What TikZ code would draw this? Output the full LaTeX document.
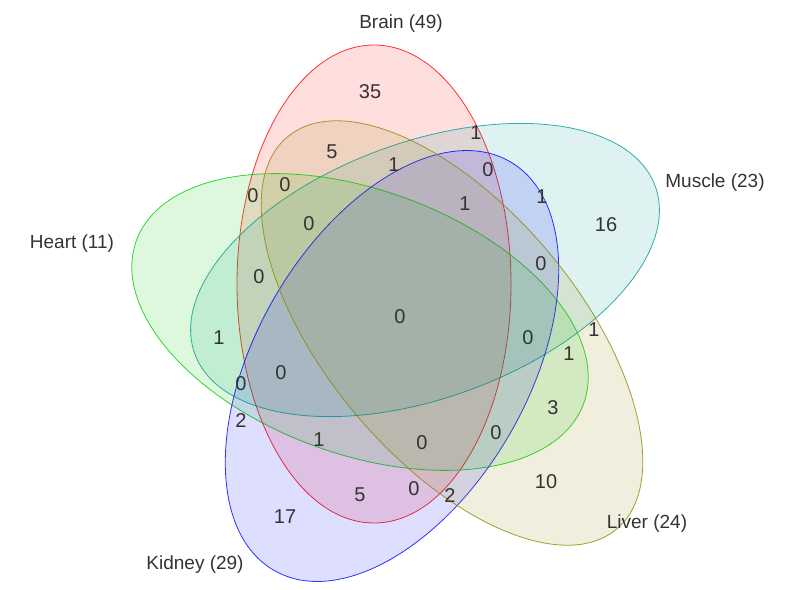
\documentclass[tikz,border=0pt]{standalone}
\usepackage{fontspec}
\setmainfont{Liberation Sans}
\begin{document}
\begin{tikzpicture}[x=1pt,y=-1pt,
  setshape/.style={draw=#1, fill=#1, fill opacity=0.13, draw opacity=0.8, line width=0.8pt},
  lab/.style={font=\fontsize{19}{22}\selectfont, text=black!80},
  num/.style={font=\fontsize{20}{23}\selectfont, text=black!80}]
\useasboundingbox (0,0) rectangle (794,589);
\path[setshape=red] (374,284) coordinate (cb) ellipse [x radius=137, y radius=239];
\path[setshape=teal!80!cyan, rotate around={20:(425,270)}] (425,270) coordinate (cm) ellipse [x radius=245, y radius=128];
\path[setshape=green!80!black, rotate around={-20:(360,322)}] (360,322) coordinate (ch) ellipse [x radius=238, y radius=132];
\path[setshape=blue, rotate around={60:(392,366)}] (392,366) coordinate (ck) ellipse [x radius=236, y radius=136];
\path[setshape=olive, rotate around={-50:(452,333)}] (452,333) coordinate (cl) ellipse [x radius=256, y radius=126];
\node[lab] (lb) at (401,24) {Brain (49)};
\node[lab] (lm) at (715,183) {Muscle (23)};
\node[lab] (lh) at (72,244) {Heart (11)};
\node[lab] (lk) at (195,565) {Kidney (29)};
\node[lab] (ll) at (647,524) {Liver (24)};
\foreach \t/\x/\y [count=\i] in {35/370/92,5/332/152,1/476/133,0/488/170,1/394/165,0/253/196,0/285/185,1/542/197,16/606/225,1/465/204,0/309/224,0/541/264,0/259/277,1/219/338,0/400/317,0/528/338,1/594/330,1/569/354,0/241/384,0/281/373,3/553/408,2/241/421,1/319/440,0/422/443,0/496/433,10/546/482,5/360/495,0/414/489,2/450/496,17/285/517}
  \node[num] (n\i) at (\x,\y) {\t};
\end{tikzpicture}
\end{document}
